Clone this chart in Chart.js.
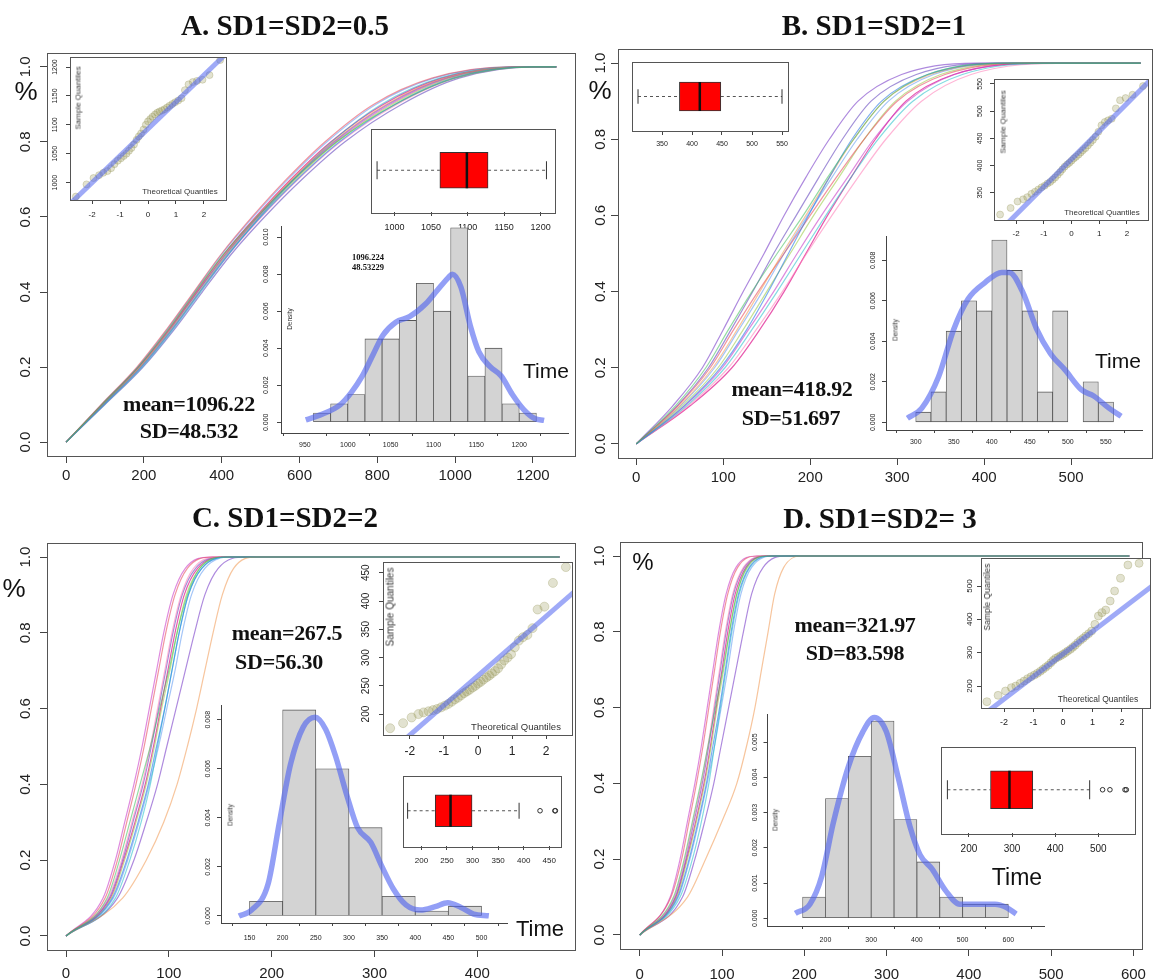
<!DOCTYPE html>
<html>
<head>
<meta charset="utf-8">
<script src="https://cdn.jsdelivr.net/npm/chart.js@4.4.1/dist/chart.umd.min.js"></script>
<style>
  body { margin: 0; background: #fff; }
  #wrap { position: relative; width: 1156px; height: 980px; overflow: hidden; background: #fff; }
  #wrap canvas { position: absolute; }
  .t { position: absolute; white-space: nowrap; color: #111; transform: translate(-50%, -50%); line-height: 1; }
  .title { font: bold 29px 'Liberation Serif', serif; }
  .stat { font: bold 22px 'Liberation Serif', serif; letter-spacing: -0.3px; }
  .time { font: 21px 'Liberation Sans', sans-serif; }
  .pct { font: 26px 'Liberation Sans', sans-serif; }
  .small { font: 8px 'Liberation Sans', sans-serif; color: #333; }
  .rot { transform: translate(-50%, -50%) rotate(-90deg); }
  .tiny { font: bold 8.5px 'Liberation Serif', serif; }
</style>
</head>
<body>
<div id="wrap"></div>
<script>
// ---------- data ----------
// cumulative curves: time at which each run reaches these fractions
const levels = [0, 0.1, 0.2, 0.3, 0.4, 0.5, 0.6, 0.7, 0.8, 0.9, 0.97, 1];
const tailEnd = [1260, 580, 480, 595];

const curvesA = [
  [0, 92, 185, 262, 332, 404, 490, 585, 695, 845, 1000, 1200],
  [0, 97, 193, 272, 343, 416, 500, 594, 702, 845, 995, 1190],
  [0, 94, 188, 265, 335, 407, 490, 580, 685, 822, 972, 1170],
  [0, 99, 196, 275, 346, 418, 498, 585, 682, 810, 960, 1160],
  [0, 90, 182, 258, 328, 398, 478, 566, 665, 790, 940, 1140],
  [0, 96, 191, 270, 341, 413, 497, 590, 696, 838, 988, 1185],
  [0, 93, 187, 266, 337, 409, 492, 583, 688, 826, 976, 1175],
  [0, 98, 194, 273, 344, 418, 502, 596, 705, 850, 1000, 1195],
  [0, 91, 184, 260, 330, 400, 481, 570, 670, 796, 946, 1145],
  [0, 95, 190, 268, 338, 411, 494, 586, 692, 832, 982, 1180],
  [0, 100, 198, 278, 350, 424, 510, 606, 716, 862, 1010, 1205],
  [0, 93, 186, 264, 334, 405, 487, 577, 680, 815, 965, 1165]
];
const curvesB = [
  [0, 45, 80, 106, 133, 162, 192, 220, 250, 285, 335, 420],
  [0, 55, 97, 127, 152, 175, 198, 222, 248, 282, 335, 430],
  [0, 50, 88, 116, 142, 168, 195, 222, 250, 285, 338, 430],
  [0, 58, 102, 133, 162, 190, 218, 247, 278, 318, 375, 480],
  [0, 48, 85, 112, 140, 170, 200, 230, 262, 300, 355, 455],
  [0, 53, 94, 123, 150, 177, 204, 233, 262, 298, 350, 445],
  [0, 42, 76, 100, 123, 147, 170, 195, 222, 255, 305, 390],
  [0, 60, 106, 138, 168, 196, 225, 255, 287, 328, 385, 500],
  [0, 51, 90, 118, 145, 170, 197, 225, 254, 290, 342, 435],
  [0, 56, 99, 129, 158, 185, 213, 243, 273, 312, 366, 470],
  [0, 47, 83, 109, 134, 158, 184, 210, 237, 270, 322, 415],
  [0, 62, 110, 142, 170, 195, 220, 247, 275, 310, 365, 480]
];
const curvesC = [
  [0, 40, 52, 62, 72, 82, 91, 100, 108, 118, 130, 156],
  [0, 45, 59, 70, 80, 88, 96, 103, 110, 119, 132, 160],
  [0, 55, 78, 95, 108, 118, 127, 135, 143, 152, 163, 185],
  [0, 48, 62, 73, 82, 89, 96, 103, 110, 119, 132, 160],
  [0, 38, 50, 59, 68, 76, 83, 90, 97, 106, 118, 142],
  [0, 44, 57, 68, 78, 86, 93, 101, 108, 117, 130, 156],
  [0, 50, 66, 78, 89, 98, 107, 116, 125, 135, 148, 175],
  [0, 41, 54, 64, 74, 82, 89, 96, 103, 112, 124, 150],
  [0, 46, 60, 71, 81, 90, 98, 106, 113, 122, 135, 163],
  [0, 36, 48, 57, 66, 74, 81, 88, 95, 104, 116, 140],
  [0, 42, 55, 65, 75, 83, 90, 97, 104, 113, 126, 152],
  [0, 43, 56, 67, 77, 85, 92, 99, 106, 115, 128, 155]
];
const curvesD = [
  [0, 41, 54, 64, 74, 83, 92, 101, 109, 118, 130, 156],
  [0, 46, 60, 71, 81, 89, 97, 104, 111, 120, 133, 160],
  [0, 58, 80, 100, 118, 130, 140, 148, 156, 164, 175, 195],
  [0, 49, 64, 75, 84, 91, 98, 105, 112, 121, 134, 162],
  [0, 38, 51, 60, 69, 77, 84, 91, 98, 107, 119, 144],
  [0, 45, 58, 69, 79, 87, 94, 102, 109, 118, 131, 158],
  [0, 52, 67, 79, 90, 99, 108, 117, 126, 136, 150, 178],
  [0, 42, 55, 65, 75, 83, 90, 97, 104, 113, 126, 152],
  [0, 47, 61, 72, 82, 91, 99, 107, 114, 123, 136, 165],
  [0, 37, 49, 58, 67, 75, 82, 89, 96, 105, 117, 142],
  [0, 43, 56, 66, 76, 84, 91, 98, 105, 114, 127, 153],
  [0, 44, 57, 68, 78, 86, 93, 100, 107, 116, 129, 156]
];

// histograms: bin centres and densities
const histAx = [970, 990, 1010, 1030, 1050, 1070, 1090, 1110, 1130, 1150, 1170, 1190, 1210];
const histAy = [0.0005, 0.001, 0.0015, 0.0045, 0.0045, 0.0055, 0.0075, 0.006, 0.0105, 0.0025, 0.004, 0.001, 0.0005];
const histBx = [310, 330, 350, 370, 390, 410, 430, 450, 470, 490, 510, 530, 550];
const histBy = [0.0005, 0.0015, 0.0045, 0.006, 0.0055, 0.009, 0.0075, 0.0055, 0.0015, 0.0055, 0, 0.002, 0.001];
const histCx = [175, 225, 275, 325, 375, 425, 475];
const histCy = [0.0006, 0.0084, 0.006, 0.0036, 0.0008, 0.0002, 0.0004];
const histDx = [175, 225, 275, 325, 375, 425, 475, 525, 575];
const histDy = [0.0006, 0.0034, 0.0046, 0.0056, 0.0028, 0.0016, 0.0006, 0.0004, 0.0004];

// kernel density curves
const densAx = [951, 968, 991, 1004, 1017, 1030, 1041, 1056, 1072, 1091, 1104, 1117, 1122, 1132, 1143, 1153, 1166, 1179, 1192, 1205, 1218, 1229];
const densAy = [0.00013, 0.0004, 0.00094, 0.0016, 0.0025, 0.0037, 0.0047, 0.0054, 0.0057, 0.0064, 0.0071, 0.0078, 0.008, 0.0073, 0.0052, 0.0038, 0.003, 0.0025, 0.0015, 0.0007, 0.0002, 0.0001];
const densBx = [289, 308, 330, 350, 369, 391, 413, 423, 441, 459, 477, 496, 518, 534, 554, 570];
const densBy = [0.0002, 0.0007, 0.00225, 0.0046, 0.0061, 0.0069, 0.0074, 0.0074, 0.0064, 0.0046, 0.0034, 0.0026, 0.0016, 0.0013, 0.0007, 0.0003];
const densCx = [134, 153, 178, 195, 212, 231, 249, 265, 280, 297, 313, 333, 350, 367, 386, 408, 430, 449, 469, 488, 511];
const densCy = [0, 0.00024, 0.0013, 0.0038, 0.0062, 0.0077, 0.0081, 0.0076, 0.0065, 0.0049, 0.0036, 0.003, 0.002, 0.0011, 0.00045, 0.00024, 0.00038, 0.00054, 0.00035, 0.00008, 0.00001];
const densDx = [134, 166, 192, 217, 250, 282, 307, 333, 359, 385, 407, 433, 462, 494, 533, 571, 597, 617];
const densDy = [0.00014, 0.0004, 0.0012, 0.0027, 0.0043, 0.0053, 0.0057, 0.0053, 0.004, 0.0026, 0.0018, 0.0014, 0.0008, 0.0004, 0.0004, 0.0004, 0.0003, 0.00012];

// normal QQ plots
const qqTheo = [-2.58, -2.2, -1.95, -1.75, -1.6, -1.45, -1.32, -1.2, -1.08, -0.97, -0.87, -0.77, -0.68, -0.59, -0.5, -0.41, -0.33, -0.25, -0.16, -0.08,
  0, 0.08, 0.16, 0.25, 0.33, 0.41, 0.5, 0.59, 0.68, 0.77, 0.87, 0.97, 1.08, 1.2, 1.32, 1.45, 1.6, 1.75, 1.95, 2.2, 2.58];
const qqA = [976, 997, 1008, 1013, 1017, 1020, 1025, 1032, 1038, 1042, 1046, 1050, 1055, 1060, 1066, 1074, 1080, 1085, 1092, 1100,
  1106, 1110, 1114, 1118, 1121, 1123, 1125, 1127, 1130, 1133, 1136, 1139, 1142, 1146, 1160, 1170, 1174, 1176, 1178, 1186, 1212];
const qqB = [310, 322, 334, 338, 342, 348, 352, 356, 360, 363, 367, 370, 374, 378, 383, 388, 393, 398, 402, 405,
  409, 413, 416, 420, 424, 428, 432, 437, 442, 447, 453, 462, 474, 480, 483, 486, 505, 520, 524, 530, 546];
const qqC = [175, 184, 194, 200, 203, 205, 207, 209, 212, 215, 218, 222, 226, 229, 233, 237, 240, 243, 247, 250,
  254, 257, 261, 265, 268, 272, 276, 281, 288, 295, 300, 306, 318, 330, 336, 340, 352, 385, 390, 432, 460];
const qqD = [153, 172, 185, 195, 200, 208, 215, 222, 228, 233, 238, 244, 250, 256, 262, 270, 277, 283, 287, 291,
  295, 300, 305, 310, 316, 322, 330, 337, 343, 350, 357, 365, 385, 410, 420, 428, 455, 485, 523, 563, 568];
// qq line: intercept, slope
const qqLineA = [1093, 46.5];
const qqLineB = [412, 51];
const qqLineC = [268, 52.5];
const qqLineD = [296, 67.6];

// box plots: whisker low, Q1, median, Q3, whisker high
const boxA = [976, 1062, 1099, 1128, 1208];
const boxB = [310, 379, 413, 448, 550];
const boxC = [173, 227, 257, 299, 391];
const boxD = [150, 250, 294, 348, 480];
const outA = [];
const outB = [];
const outC = [432, 461, 462];
const outD = [510, 527, 562, 565];

const lineColors = [
  'rgba(60,190,90,0.55)', 'rgba(40,120,230,0.6)', 'rgba(240,140,60,0.5)', 'rgba(30,190,200,0.55)',
  'rgba(230,60,80,0.55)', 'rgba(150,200,60,0.55)', 'rgba(120,60,200,0.6)', 'rgba(255,120,180,0.55)',
  'rgba(90,150,240,0.55)', 'rgba(200,60,200,0.6)', 'rgba(100,70,190,0.6)', 'rgba(220,0,130,0.65)'
];

// ---------- setup ----------
const SANS = "'Liberation Sans', Arial, sans-serif";
Chart.defaults.font.family = SANS;
Chart.defaults.animation = false;
Chart.defaults.responsive = false;
Chart.defaults.events = [];
Chart.defaults.plugins.legend.display = false;
Chart.defaults.plugins.tooltip.enabled = false;

// box round the plot region, as R draws it
Chart.register({
  id: 'frame',
  beforeDraw(chart, args, opts) {
    if (!opts.show) return;
    const a = chart.chartArea, ctx = chart.ctx;
    ctx.save();
    ctx.fillStyle = '#fff';
    ctx.fillRect(a.left, a.top, a.right - a.left, a.bottom - a.top);
    ctx.restore();
  },
  afterDraw(chart, args, opts) {
    if (!opts.show) return;
    const a = chart.chartArea, ctx = chart.ctx;
    ctx.save();
    ctx.strokeStyle = '#555';
    ctx.lineWidth = 1;
    ctx.strokeRect(Math.round(a.left) + 0.5, Math.round(a.top) + 0.5, Math.round(a.right - a.left), Math.round(a.bottom - a.top));
    ctx.restore();
  }
});

const wrap = document.getElementById('wrap');
function canvasAt(r) {
  const c = document.createElement('canvas');
  c.width = r[2]; c.height = r[3];
  c.style.left = r[0] + 'px'; c.style.top = r[1] + 'px';
  wrap.appendChild(c);
  return c;
}
function text(str, x, y, cls, extra) {
  const d = document.createElement('div');
  d.className = 't ' + cls;
  d.textContent = str;
  d.style.left = x + 'px'; d.style.top = y + 'px';
  if (extra) Object.assign(d.style, extra);
  wrap.appendChild(d);
}

function xAxis(range, ticks, o) {
  return {
    type: 'linear', min: range[0], max: range[1],
    afterBuildTicks: s => { s.ticks = ticks.map(v => ({ value: v })); },
    afterFit: s => { s.height = o.h; },
    grid: { drawOnChartArea: false, drawTicks: true, tickLength: o.tl, color: '#444' },
    border: { display: !!o.border, color: '#444' },
    ticks: { font: { size: o.fs }, color: '#222', padding: o.pad, maxRotation: 0, autoSkip: false,
      callback: v => o.fmt ? o.fmt(v) : String(v) }
  };
}
function yAxis(range, ticks, o) {
  return {
    type: 'linear', min: range[0], max: range[1],
    afterBuildTicks: s => { s.ticks = ticks.map(v => ({ value: v })); },
    afterFit: s => { s.width = o.w; },
    grid: { drawOnChartArea: false, drawTicks: true, tickLength: o.tl, color: '#444' },
    border: { display: !!o.border, color: '#444' },
    ticks: { font: { size: o.fs }, color: '#222', padding: o.pad, minRotation: 90, maxRotation: 90,
      crossAlign: 'center', autoSkip: false, callback: v => o.fmt ? o.fmt(v) : String(v) }
  };
}

// ---------- main cumulative plots ----------
function mainChart(cv, curves, tail, xr, xt, lay) {
  const datasets = curves.map((c, i) => ({
    data: c.map((t, k) => ({ x: t, y: levels[k] })).concat([{ x: tail, y: 1 }]),
    borderColor: lineColors[i % lineColors.length],
    borderWidth: 1.2, pointRadius: 0, cubicInterpolationMode: 'monotone', fill: false
  }));
  new Chart(cv, {
    type: 'line',
    data: { datasets },
    options: {
      layout: { padding: { top: lay.top, right: lay.right, left: 0, bottom: 0 } },
      plugins: { frame: { show: true } },
      scales: {
        x: xAxis(xr, xt, { h: lay.xh, tl: 7, fs: 15, pad: lay.xpad }),
        y: yAxis([-0.037, 1.037], [0, 0.2, 0.4, 0.6, 0.8, 1.0], { w: lay.yw, tl: 7, fs: 15, pad: lay.ypad, fmt: v => v.toFixed(1) })
      }
    }
  });
}

// ---------- QQ insets ----------
function qqChart(cv, sample, line, xr, yr, yt, lay) {
  new Chart(cv, {
    type: 'scatter',
    data: { datasets: [
      { type: 'line', data: [{ x: -4, y: line[0] - 4 * line[1] }, { x: 4, y: line[0] + 4 * line[1] }],
        borderColor: 'rgba(80,100,240,0.55)', borderWidth: 5, pointRadius: 0, order: 0 },
      { type: 'scatter', data: qqTheo.map((z, i) => ({ x: z, y: sample[i] })),
        pointRadius: lay.r, pointBackgroundColor: 'rgba(150,150,85,0.28)', pointBorderColor: 'rgba(150,150,85,0.3)', pointBorderWidth: 1, order: 1 }
    ] },
    options: {
      layout: { padding: { top: lay.top, right: lay.right, left: 0, bottom: 0 } },
      plugins: { frame: { show: true } },
      scales: {
        x: xAxis(xr, [-2, -1, 0, 1, 2], { h: lay.xh, tl: 4, fs: lay.xfs, pad: lay.xpad }),
        y: yAxis(yr, yt, { w: lay.yw, tl: 4, fs: lay.yfs, pad: lay.ypad })
      }
    }
  });
}

// ---------- box plot insets ----------
function boxChart(cv, st, outl, xr, xt, lay) {
  const dash = { type: 'line', borderColor: '#555', borderWidth: 1, borderDash: [3, 3], pointRadius: 0, order: 3 };
  const bh = lay.bh;
  new Chart(cv, {
    type: 'scatter',
    data: { datasets: [
      Object.assign({ data: [{ x: st[0], y: 1 }, { x: st[1], y: 1 }] }, dash),
      Object.assign({ data: [{ x: st[3], y: 1 }, { x: st[4], y: 1 }] }, dash),
      { type: 'bar', indexAxis: 'y', data: [{ y: 1, x: [st[1], st[3]] }], backgroundColor: '#ff0000',
        borderColor: '#333', borderWidth: 1, borderSkipped: false, barThickness: bh, order: 2 },
      { type: 'scatter', data: [{ x: st[0], y: 1 }, { x: st[4], y: 1 }], pointStyle: 'line', pointRotation: 90,
        pointRadius: bh / 4, pointBorderColor: '#333', pointBorderWidth: 1, order: 1 },
      { type: 'scatter', data: [{ x: st[2], y: 1 }], pointStyle: 'line', pointRotation: 90,
        pointRadius: bh / 2, pointBorderColor: '#111', pointBorderWidth: 2.5, order: 0 },
      { type: 'scatter', data: outl.map(v => ({ x: v, y: 1 })), pointStyle: 'circle', pointRadius: 2.3,
        pointBorderColor: '#333', pointBackgroundColor: 'rgba(0,0,0,0)', pointBorderWidth: 1, order: 0 }
    ] },
    options: {
      layout: { padding: { top: lay.top, right: lay.right, left: lay.left, bottom: 0 } },
      plugins: { frame: { show: true } },
      scales: {
        x: xAxis(xr, xt, { h: lay.xh, tl: 4, fs: lay.fs, pad: lay.xpad }),
        y: { type: 'linear', min: 0, max: 2, display: false }
      }
    }
  });
}

// ---------- histogram insets ----------
function histChart(cv, hx, hy, dx, dy, xr, yr, xt, yt, lay) {
  new Chart(cv, {
    type: 'bar',
    data: { datasets: [
      { type: 'line', data: dx.map((x, i) => ({ x, y: dy[i] })), borderColor: 'rgba(75,95,240,0.6)',
        borderWidth: 5.5, pointRadius: 0, cubicInterpolationMode: 'monotone', order: 0 },
      { type: 'bar', data: hx.map((x, i) => ({ x, y: hy[i] })), backgroundColor: '#d3d3d3', borderColor: '#555',
        borderWidth: 0.8, borderSkipped: false, barPercentage: 1, categoryPercentage: 1, order: 1 }
    ] },
    options: {
      layout: { padding: { top: lay.top, right: lay.right, left: 0, bottom: 0 } },
      scales: {
        x: xAxis(xr, xt, { h: lay.xh, tl: 3, fs: 7, pad: lay.xpad, border: true }),
        y: yAxis(yr, yt, { w: lay.yw, tl: 4, fs: 7, pad: lay.ypad, border: true, fmt: v => v.toFixed(3) })
      }
    }
  });
}

// main plots
mainChart(canvasAt([0, 40, 580, 450]), curvesA, tailEnd[0], [-49, 1308], [0, 200, 400, 600, 800, 1000, 1200],
  { top: 8, right: 5, xh: 34, yw: 47, xpad: 4, ypad: 4 });
mainChart(canvasAt([580, 40, 576, 450]), curvesB, tailEnd[1], [-21, 593], [0, 100, 200, 300, 400, 500],
  { top: 8, right: 4, xh: 32, yw: 38, xpad: 4, ypad: 0 });
mainChart(canvasAt([0, 530, 580, 450]), curvesC, tailEnd[2], [-18.5, 495], [0, 100, 200, 300, 400],
  { top: 8, right: 5, xh: 30, yw: 47, xpad: 8, ypad: 4 });
mainChart(canvasAt([580, 530, 576, 450]), curvesD, tailEnd[3], [-24, 611], [0, 100, 200, 300, 400, 500, 600],
  { top: 9, right: 4, xh: 31, yw: 40, xpad: 10, ypad: 3 });

// QQ plots
qqChart(canvasAt([40, 50, 195, 180]), qqA, qqLineA, [-2.79, 2.79], [970, 1217], [1000, 1050, 1100, 1150, 1200],
  { top: 7, right: 9, xh: 30, yw: 30, xfs: 8, yfs: 7, xpad: 6, ypad: 3, r: 3.5 });
qqChart(canvasAt([960, 70, 196, 180]), qqB, qqLineB, [-2.8, 2.76], [300, 559], [350, 400, 450, 500, 550],
  { top: 9, right: 8, xh: 30, yw: 34, xfs: 8, yfs: 7, xpad: 5, ypad: 4, r: 3.5 });
qqChart(canvasAt([345, 552, 235, 215]), qqC, qqLineC, [-2.79, 2.76], [163, 469], [200, 250, 300, 350, 400, 450],
  { top: 9, right: 8, xh: 32, yw: 38, xfs: 12, yfs: 10, xpad: 5, ypad: 4, r: 4.5 });
qqChart(canvasAt([950, 550, 206, 185]), qqD, qqLineD, [-2.78, 2.95], [134, 584], [200, 300, 400, 500],
  { top: 8, right: 6, xh: 27, yw: 31, xfs: 9, yfs: 8, xpad: 5, ypad: 1, r: 4 });

// box plots
boxChart(canvasAt([350, 108, 225, 130]), boxA, outA, [967, 1219], [1000, 1050, 1100, 1150, 1200],
  { top: 7, right: 5, left: 7, xh: 26, fs: 9, xpad: 6, bh: 36 });
boxChart(canvasAt([615, 45, 190, 110]), boxB, outB, [300, 560], [350, 400, 450, 500, 550],
  { top: 6, right: 7, left: 6, xh: 24, fs: 7, xpad: 5, bh: 29 });
boxChart(canvasAt([384, 757, 195, 115]), boxC, outC, [163, 472], [200, 250, 300, 350, 400, 450],
  { top: 6, right: 5, left: 6, xh: 26, fs: 8, xpad: 6, bh: 32 });
boxChart(canvasAt([919, 725, 237, 135]), boxD, outD, [134, 584], [200, 300, 400, 500],
  { top: 6, right: 6, left: 6, xh: 27, fs: 10, xpad: 6, bh: 38 });

// histograms
histChart(canvasAt([250, 218, 325, 240]), histAx, histAy, densAx, densAy, [950, 1229], [-0.00058, 0.0106],
  [950, 1000, 1050, 1100, 1150, 1200], [0, 0.002, 0.004, 0.006, 0.008, 0.010],
  { top: 8, right: 7, xh: 25, yw: 31, xpad: 5, ypad: 2 });
histChart(canvasAt([855, 226, 300, 232]), histBx, histBy, densBx, densBy, [289, 570], [-0.00038, 0.0092],
  [300, 350, 400, 450, 500, 550], [0, 0.002, 0.004, 0.006, 0.008],
  { top: 10, right: 12.5, xh: 28, yw: 31, xpad: 5, ypad: 0 });
histChart(canvasAt([188, 695, 327, 260]), histCx, histCy, densCx, densCy, [134, 512], [-0.000286, 0.0086],
  [150, 200, 250, 300, 350, 400, 450, 500], [0, 0.002, 0.004, 0.006, 0.008],
  { top: 10, right: 7.6, xh: 32, yw: 33, xpad: 8, ypad: 0 });
histChart(canvasAt([730, 704, 320, 250]), histDx, histDy, densDx, densDy, [133.7, 617.5], [-0.00022, 0.0058],
  [200, 300, 400, 500, 600], [0, 0.001, 0.002, 0.003, 0.004, 0.005],
  { top: 10, right: 6, xh: 28, yw: 37.5, xpad: 7, ypad: 0 });

// ---------- text ----------
text('A. SD1=SD2=0.5', 285, 25, 'title');
text('B. SD1=SD2=1', 874, 25, 'title');
text('C. SD1=SD2=2', 285, 517, 'title');
text('D. SD1=SD2= 3', 880, 518, 'title');

text('%', 26, 91, 'pct');
text('%', 600, 90, 'pct');
text('%', 14, 588, 'pct');
text('%', 643, 562, 'pct', { fontSize: '24px' });

text('mean=1096.22', 189, 404, 'stat');
text('SD=48.532', 189, 431, 'stat');
text('mean=418.92', 792, 389, 'stat');
text('SD=51.697', 791, 418, 'stat');
text('mean=267.5', 287, 633, 'stat');
text('SD=56.30', 279, 662, 'stat');
text('mean=321.97', 855, 625, 'stat');
text('SD=83.598', 855, 653, 'stat');

text('Time', 546, 371, 'time');
text('Time', 1118, 361, 'time');
text('Time', 540, 929, 'time', { fontSize: '22px' });
text('Time', 1017, 877, 'time', { fontSize: '23px' });

text('1096.224', 368, 257, 'tiny');
text('48.53229', 368, 267, 'tiny');

text('Sample Quantiles', 78, 98, 'small rot');
text('Theoretical Quantiles', 180, 191, 'small');
text('Sample Quantiles', 1003, 122, 'small rot');
text('Theoretical Quantiles', 1102, 212, 'small');
text('Sample Quantiles', 390, 607, 'small rot', { fontSize: '10px' });
text('Theoretical Quantiles', 516, 726, 'small', { fontSize: '9.5px' });
text('Sample Quantiles', 987, 597, 'small rot', { fontSize: '8.5px' });
text('Theoretical Quantiles', 1098, 699, 'small', { fontSize: '8.5px' });

text('Density', 289, 319, 'small rot', { fontSize: '6.5px' });
text('Density', 895, 330, 'small rot', { fontSize: '6.5px' });
text('Density', 230, 815, 'small rot', { fontSize: '6.5px' });
text('Density', 775, 820, 'small rot', { fontSize: '6.5px' });
</script>
</body>
</html>
